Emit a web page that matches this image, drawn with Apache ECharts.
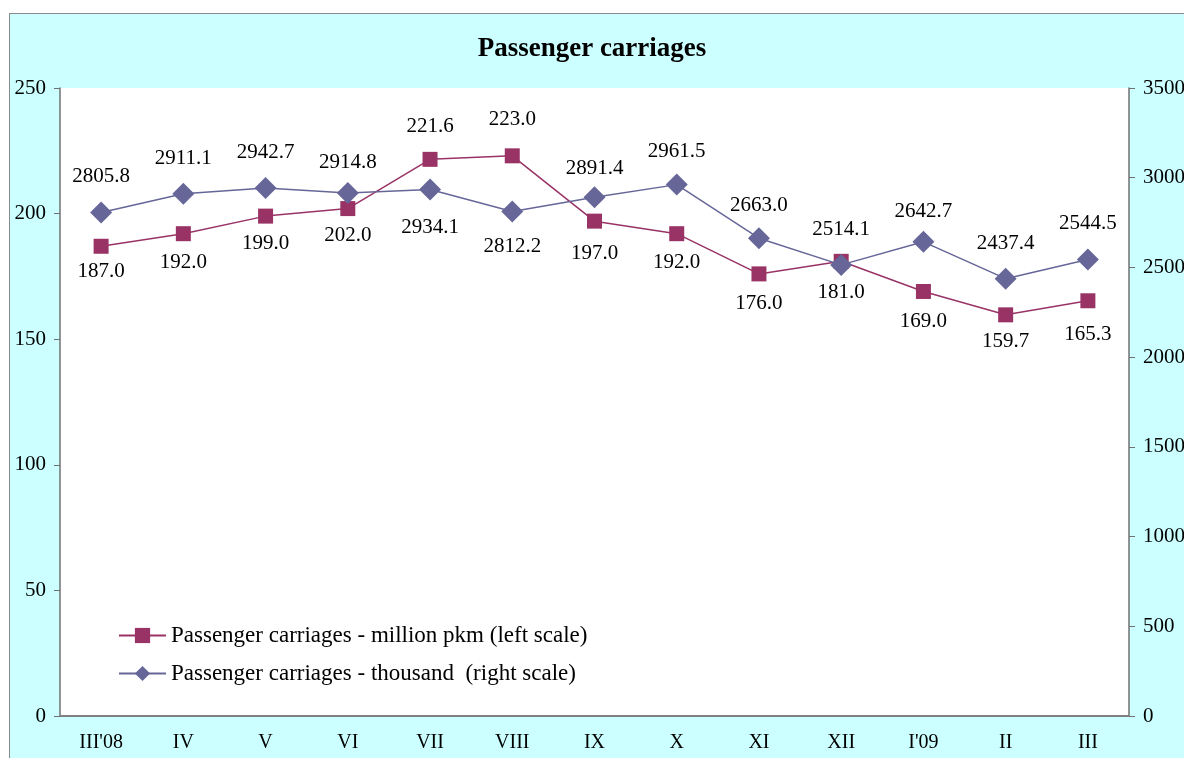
<!DOCTYPE html>
<html>
<head>
<meta charset="utf-8">
<script src="https://cdn.jsdelivr.net/npm/echarts@6/dist/echarts.min.js"></script>
<style>
  html, body { margin: 0; padding: 0; background: #ffffff; }
  #frame { position: absolute; left: 9px; top: 13px; width: 1200px; height: 760px; background: #CCFFFF; border-left: 1px solid #8a8a8a; border-top: 1px solid #8a8a8a; }
  #chart { position: absolute; left: 0; top: 0; width: 1184px; height: 758px; }
</style>
</head>
<body>
<div id="frame"></div>
<div id="chart"></div>
<script>
// ---- data ----
const categories = ["III'08", "IV", "V", "VI", "VII", "VIII", "IX", "X", "XI", "XII", "I'09", "II", "III"];
const pkmValues = [187.0, 192.0, 199.0, 202.0, 221.6, 223.0, 197.0, 192.0, 176.0, 181.0, 169.0, 159.7, 165.3];
const carriageValues = [2805.8, 2911.1, 2942.7, 2914.8, 2934.1, 2812.2, 2891.4, 2961.5, 2663.0, 2514.1, 2642.7, 2437.4, 2544.5];
const seriesNames = ["Passenger carriages - million pkm (left scale)", "Passenger carriages - thousand  (right scale)"];
const leftTicks = { min: 0, max: 250, interval: 50 };
const rightTicks = { min: 0, max: 3500, interval: 500 };

// label placement (vertical offset of label centre from point, px)
const pkmLabelDy = [25, 29, 27, 27, -33, -36, 32, 29, 30, 31, 30, 27, 34];
const carLabelDy = [-36, -35, -36, -31, 38, 35, -29, -33, -33, -35, -30, -35, -36];

const FONT = "Liberation Serif";
const chart = echarts.init(document.getElementById('chart'));

function mkData(vals, dys) {
  return vals.map((v, i) => ({
    value: v,
    label: { offset: [0, dys[i]] }
  }));
}

chart.setOption({
  backgroundColor: 'transparent',
  animation: false,
  title: {
    text: 'Passenger carriages',
    left: 'center',
    top: 31,
    textStyle: { fontFamily: FONT, fontWeight: 'bold', fontSize: 27, color: '#000' }
  },
  legend: {
    orient: 'vertical',
    left: 113,
    top: 619,
    itemWidth: 47,
    itemHeight: 19,
    itemGap: 15,
    textStyle: { fontFamily: FONT, fontSize: 23, color: '#000' },
    data: seriesNames
  },
  grid: {
    left: 60, right: 55, top: 88, bottom: 42,
    outerBoundsMode: 'none',
    containLabel: false,
    show: true, backgroundColor: '#ffffff', borderWidth: 0
  },
  xAxis: {
    type: 'category',
    data: categories,
    boundaryGap: true,
    axisLine: { lineStyle: { color: '#808080', width: 2 } },
    axisTick: { show: false },
    axisLabel: { fontFamily: FONT, fontSize: 20, color: '#000', margin: 17, interval: 0 }
  },
  yAxis: [
    {
      type: 'value', position: 'left',
      min: leftTicks.min, max: leftTicks.max, interval: leftTicks.interval,
      axisLine: { show: true, lineStyle: { color: '#707070', width: 1.5 } },
      axisTick: { show: true, length: 6, lineStyle: { color: '#707070' } },
      splitLine: { show: false },
      axisLabel: { fontFamily: FONT, fontSize: 21, color: '#000', margin: 14, formatter: v => String(v) }
    },
    {
      type: 'value', position: 'right',
      min: rightTicks.min, max: rightTicks.max, interval: rightTicks.interval,
      axisLine: { show: true, lineStyle: { color: '#707070', width: 1.5 } },
      axisTick: { show: true, length: 6, lineStyle: { color: '#707070' } },
      splitLine: { show: false },
      axisLabel: { fontFamily: FONT, fontSize: 21, color: '#000', margin: 14, formatter: v => String(v) }
    }
  ],
  series: [
    {
      name: seriesNames[0],
      type: 'line',
      yAxisIndex: 0,
      data: mkData(pkmValues, pkmLabelDy),
      symbol: 'rect',
      symbolSize: 15,
      itemStyle: { color: '#993366' },
      lineStyle: { color: '#993366', width: 1.5 },
      label: {
        show: true, position: 'inside',
        fontFamily: FONT, fontSize: 21, color: '#000',
        formatter: p => p.value.toFixed(1)
      },
      z: 3
    },
    {
      name: seriesNames[1],
      type: 'line',
      yAxisIndex: 1,
      data: mkData(carriageValues, carLabelDy),
      symbol: 'diamond',
      symbolSize: 22,
      itemStyle: { color: '#666699' },
      lineStyle: { color: '#666699', width: 1.5 },
      label: {
        show: true, position: 'inside',
        fontFamily: FONT, fontSize: 21, color: '#000',
        formatter: p => p.value.toFixed(1)
      },
      z: 4
    }
  ]
});
</script>
</body>
</html>
